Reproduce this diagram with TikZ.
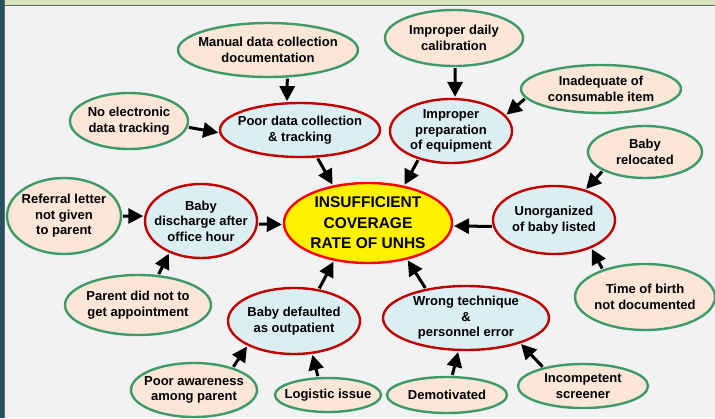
\documentclass[tikz,border=0pt]{standalone}
\usepackage{fontspec}
\setmainfont{Liberation Sans}
\usetikzlibrary{shapes.geometric,arrows.meta}
\definecolor{cgreen}{HTML}{3E9A68}
\definecolor{cpeach}{HTML}{FBE6D8}
\definecolor{cred}{HTML}{C00000}
\definecolor{cblue}{HTML}{DBEEF4}
\definecolor{cbg}{HTML}{F2F2F2}
\definecolor{cstrip}{HTML}{D7E4BD}
\definecolor{cteal}{HTML}{24505F}
\definecolor{cline}{HTML}{666666}
\tikzset{
  cause/.style={ellipse, draw=cgreen, fill=cpeach, line width=2.4pt, inner sep=0pt},
  effect/.style={ellipse, draw=cred, fill=cblue, line width=2.4pt, inner sep=0pt},
  core/.style={ellipse, draw=red, fill=yellow, line width=2.4pt, inner sep=0pt},
  ltext/.style={font=\fontsize{13}{15.6}\selectfont\bfseries, align=center, inner sep=0pt, text=black},
  ctext/.style={font=\fontsize{15.5}{20.5}\selectfont\bfseries, align=center, inner sep=0pt, text=black},
  arr/.style={-{Triangle[length=15pt,width=15pt]}, line width=3pt, shorten >=1pt, shorten <=1pt}
}
\begin{document}
\begin{tikzpicture}[x=1pt,y=-1pt]
\useasboundingbox (0,0) rectangle (715,418);
\fill[cbg] (0,0) rectangle (715,418);
\fill[cstrip] (5,0) rectangle (715,5);
\fill[cline] (5,5) rectangle (715,6.3);
\fill[cteal] (0,0) rectangle (4.3,418);
\fill[cline] (4.3,0) rectangle (5.4,418);

% core
\node[core, minimum width=168pt, minimum height=80pt, label={[ctext]center:{INSUFFICIENT\\COVERAGE\\RATE OF UNHS}}] (ctr) at (368,223) {};

% effects
\node[effect, minimum width=160pt, minimum height=54pt, label={[ltext]center:{Poor data collection\\\& tracking}}] (poor) at (300,130) {};
\node[effect, minimum width=122pt, minimum height=64pt, label={[ltext]center:{Improper\\preparation\\of equipment}}] (prep) at (451,131) {};
\node[effect, minimum width=122pt, minimum height=68pt, label={[ltext]center:{Unorganized\\of baby listed}}] (unorg) at (554,220) {};
\node[effect, minimum width=166pt, minimum height=64pt, label={[ltext]center:{Wrong technique\\\&\\personnel error}}] (wrong) at (466,318) {};
\node[effect, minimum width=132pt, minimum height=66pt, label={[ltext]center:{Baby defaulted\\as outpatient}}] (def) at (294,321) {};
\node[effect, minimum width=112pt, minimum height=74pt, label={[ltext]center:{Baby\\discharge after\\office hour}}] (disch) at (201,221) {};

% causes
\node[cause, minimum width=180pt, minimum height=54pt, label={[ltext]center:{Manual data collection\\documentation}}] (man) at (268,50) {};
\node[cause, minimum width=118pt, minimum height=56pt, label={[ltext]center:{No electronic\\data tracking}}] (noe) at (129,121) {};
\node[cause, minimum width=138pt, minimum height=56pt, label={[ltext]center:{Improper daily\\calibration}}] (cal) at (454,38) {};
\node[cause, minimum width=160pt, minimum height=48pt, label={[ltext]center:{Inadequate of\\consumable item}}] (inad) at (601,89) {};
\node[cause, minimum width=114pt, minimum height=52pt, label={[ltext]center:{Baby\\relocated}}] (reloc) at (645,152) {};
\node[cause, minimum width=140pt, minimum height=66pt, label={[ltext]center:{Time of birth\\not documented}}] (tob) at (645,297) {};
\node[cause, minimum width=130pt, minimum height=44pt, label={[ltext]center:{Incompetent\\screener}}] (inc) at (583,386) {};
\node[cause, minimum width=120pt, minimum height=36pt, label={[ltext]center:{Demotivated}}] (demot) at (447,395) {};
\node[cause, minimum width=106pt, minimum height=34pt, label={[ltext]center:{Logistic issue}}] (logi) at (328,395) {};
\node[cause, minimum width=126pt, minimum height=54pt, label={[ltext]center:{Poor awareness\\among parent}}] (aware) at (194,390) {};
\node[cause, minimum width=146pt, minimum height=60pt, label={[ltext]center:{Parent did not to\\get appointment}}] (parent) at (138,305) {};
\node[cause, minimum width=114pt, minimum height=76pt, label={[ltext]center:{Referral letter\\not given\\to parent}}] (refer) at (64,216) {};

% arrows
\draw[arr] (man.-55) -- (poor.115);
\draw[arr] (noe.-6.5) -- (poor.182);
\draw[arr] (poor.-58) -- (ctr.133.5);
\draw[arr] (cal.-88) -- (prep.83);
\draw[arr] (inad.187) -- (prep.16.5);
\draw[arr] (prep.221) -- (ctr.46.5);
\draw[arr] (reloc.204) -- (unorg.44);
\draw[arr] (unorg.186) -- (ctr.-2);
\draw[arr] (tob.147) -- (unorg.-37);
\draw[arr] (wrong.144) -- (ctr.-43.7);
\draw[arr] (inc.155) -- (wrong.-25);
\draw[arr] (demot.75) -- (wrong.257);
\draw[arr] (logi.119) -- (def.-61);
\draw[arr] (aware.30.5) -- (def.208);
\draw[arr] (def.52) -- (ctr.228);
\draw[arr] (parent.56) -- (disch.225);
\draw[arr] (refer.0) -- (disch.175);
\draw[arr] (disch.-3) -- (ctr.181);
\end{tikzpicture}
\end{document}
